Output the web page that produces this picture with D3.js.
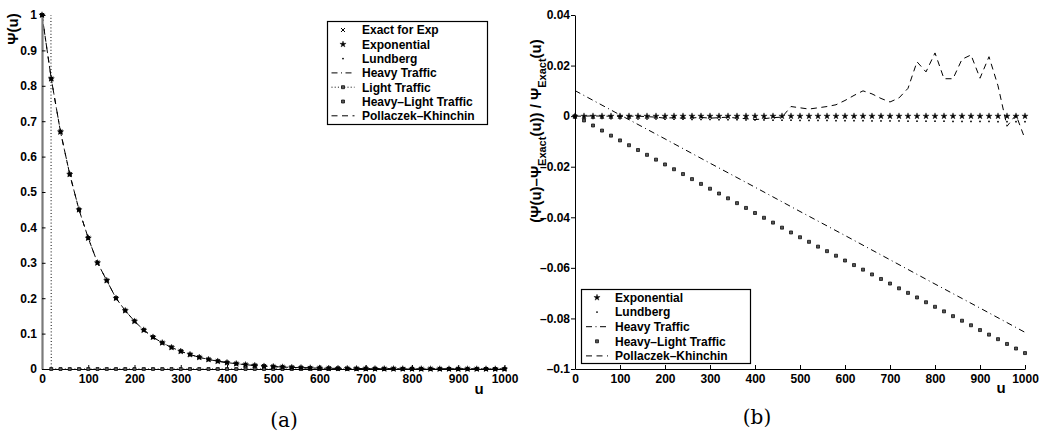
<!DOCTYPE html>
<html>
<head>
<meta charset="utf-8">
<script src="https://cdn.jsdelivr.net/npm/d3@7"></script>
<style>
  body { margin: 0; background: #fff; }
  svg { display: block; font-family: "Liberation Sans", Arial, sans-serif; }
</style>
</head>
<body>
<svg id="fig" width="1048" height="431"></svg>
<script>
// ---------- data ----------
// surplus levels u (step 20)
const uValues = [0,20,40,60,80,100,120,140,160,180,200,220,240,260,280,300,320,340,360,380,
  400,420,440,460,480,500,520,540,560,580,600,620,640,660,680,700,720,740,760,780,
  800,820,840,860,880,900,920,940,960,980,1000];

// ruin probability Psi(u), exact and the approximations (visually coincident)
const psiExact = [1,0.82,0.67,0.55,0.45,0.37,0.30,0.25,0.20,0.165,0.135,0.11,0.09,0.074,0.061,0.05,
  0.041,0.033,0.027,0.022,0.018,0.015,0.012,0.010,0.008,0.0067,0.0055,0.0045,0.0037,0.003,
  0.0025,0.002,0.0017,0.0014,0.0011,0.0009,0.0007,0.0006,0.0005,0.0004,0.0003,0.0003,0.0002,
  0.0002,0.0001,0.0001,0.0001,0.0001,0,0,0];

// light traffic approximation: far above 1 at u = 0, then zero
const psiLight = [30,0,0,0,0,0,0,0,0,0,0,0,0,0,0,0,0,0,0,0,0,0,0,0,0,0,0,0,0,0,
  0,0,0,0,0,0,0,0,0,0,0,0,0,0,0,0,0,0,0,0,0];

// relative errors (Psi(u) - Psi_Exact(u)) / Psi_Exact(u)
const relExponential = [0,0,0,0,0,0,0,0,0,0,0,0,0,0,0,0,0,0,0,0,0,0,0,0,0,0,0,0,0,0,
  0,0,0,0,0,0,0,0,0,0,0,0,0,0,0,0,0,0,0,0,0];

const relLundberg = [-0.0008,-0.0008,-0.0009,-0.0009,-0.0010,-0.0010,-0.0010,-0.0011,-0.0011,-0.0011,
  -0.0012,-0.0012,-0.0012,-0.0013,-0.0013,-0.0013,-0.0014,-0.0014,-0.0014,-0.0015,
  -0.0015,-0.0015,-0.0016,-0.0016,-0.0016,-0.0017,-0.0017,-0.0017,-0.0017,-0.0018,
  -0.0018,-0.0018,-0.0018,-0.0019,-0.0019,-0.0019,-0.0019,-0.0020,-0.0020,-0.0020,
  -0.0020,-0.0020,-0.0021,-0.0021,-0.0021,-0.0021,-0.0021,-0.0022,-0.0022,-0.0022,-0.0022];

const uCoarse = [0,100,200,300,400,500,600,700,800,900,1000];
const relHeavy = [0.0101,0.0005,-0.0090,-0.0186,-0.0281,-0.0377,-0.0472,-0.0568,-0.0664,-0.0759,-0.0855];

const relHeavyLight = [0,-0.0017,-0.0037,-0.0057,-0.0077,-0.0096,-0.0115,-0.0134,-0.0153,-0.0172,
  -0.0191,-0.0210,-0.0229,-0.0249,-0.0268,-0.0287,-0.0306,-0.0325,-0.0344,-0.0363,
  -0.0383,-0.0402,-0.0421,-0.0441,-0.0460,-0.0479,-0.0497,-0.0516,-0.0534,-0.0552,
  -0.0571,-0.0589,-0.0607,-0.0626,-0.0644,-0.0662,-0.0681,-0.0699,-0.0717,-0.0736,
  -0.0754,-0.0772,-0.0791,-0.0809,-0.0827,-0.0846,-0.0864,-0.0882,-0.0901,-0.0919,-0.0937];

const relPK = [0,0,0.0001,0,0,-0.0001,0,0,-0.0002,-0.0004,
  -0.0008,-0.0006,-0.0008,-0.0007,-0.0005,-0.0008,-0.0006,-0.0004,-0.0008,-0.0010,
  -0.0014,-0.0010,-0.0006,-0.0004,0.0038,0.0033,0.0028,0.0033,0.0038,0.0045,
  0.0062,0.0082,0.0100,0.0088,0.0070,0.0056,0.0072,0.0110,0.0215,0.0175,
  0.0250,0.0148,0.0148,0.0225,0.0242,0.0150,0.0235,0.0120,-0.0040,0.0005,-0.0090];

// tick values
const xTicks = [0,100,200,300,400,500,600,700,800,900,1000];
const yTicksA = [0,0.1,0.2,0.3,0.4,0.5,0.6,0.7,0.8,0.9,1];
const yTicksB = [-0.1,-0.08,-0.06,-0.04,-0.02,0,0.02,0.04];

// legend entries
const legendA = ["Exact for Exp","Exponential","Lundberg","Heavy Traffic","Light Traffic","Heavy\u2013Light Traffic","Pollaczek\u2013Khinchin"];
const legendB = ["Exponential","Lundberg","Heavy Traffic","Heavy\u2013Light Traffic","Pollaczek\u2013Khinchin"];

// ---------- drawing ----------
const svg = d3.select("#fig");

const xA = d3.scaleLinear().domain([0, 1000]).range([42, 504.5]);
const yA = d3.scaleLinear().domain([0, 1]).range([369, 15]);
const xB = d3.scaleLinear().domain([0, 1000]).range([575, 1025]);
const yB = d3.scaleLinear().domain([-0.1, 0.04]).range([369, 15]);

const styles = {
  heavy:  { dash: "6,3.5,1,3.5" },
  light:  { dash: "1,2.2" },
  pk:     { dash: "6,4.5" }
};

const symStar = d3.symbol().type(d3.symbolStar).size(12);
const symSquare = d3.symbol().type(d3.symbolSquare).size(9);
const symX = d3.symbol().type(d3.symbolX).size(12);

function drawLine(g, xs, ys, xScale, yScale, dash, clipId) {
  const line = d3.line().x((d, i) => xScale(xs[i])).y(d => yScale(d));
  const p = g.append("path")
    .attr("d", line(ys))
    .attr("fill", "none")
    .attr("stroke", "#000")
    .attr("stroke-width", 1)
    .attr("stroke-dasharray", dash);
  if (clipId) p.attr("clip-path", `url(#${clipId})`);
  return p;
}

function markerAttrs(sel, kind) {
  if (kind === "star") {
    sel.attr("d", symStar).attr("fill", "#000").attr("stroke", "#000").attr("stroke-width", 0.4);
  } else if (kind === "square") {
    sel.attr("d", symSquare).attr("fill", "#555").attr("stroke", "#111").attr("stroke-width", 0.8);
  } else {
    sel.attr("d", symX).attr("fill", "none").attr("stroke", "#000").attr("stroke-width", 1);
  }
}

function drawMarkers(g, xs, ys, xScale, yScale, kind, filter) {
  const pts = ys.map((v, i) => ({ u: xs[i], v })).filter(filter || (() => true));
  const sel = g.append("g");
  if (kind === "dot") {
    sel.selectAll("circle").data(pts).join("circle")
      .attr("cx", d => xScale(d.u)).attr("cy", d => yScale(d.v))
      .attr("r", 0.9).attr("fill", "#000");
  } else {
    sel.selectAll("path").data(pts).join("path")
      .attr("transform", d => `translate(${xScale(d.u)},${yScale(d.v)})`)
      .call(markerAttrs, kind);
  }
}

function styleAxis(g, color, width) {
  g.select(".domain").attr("stroke", color).attr("stroke-width", width);
  g.selectAll(".tick line").attr("stroke", "#000");
  g.selectAll(".tick text")
    .attr("fill", "#000")
    .attr("font-size", 12)
    .attr("font-weight", "bold")
    .attr("font-family", "Liberation Sans, Arial, sans-serif");
}

const fmtB = d => d < 0 ? "\u2013" + String(-d) : String(d);

// ---- panel (a) ----
const gA = svg.append("g");
svg.append("clipPath").attr("id", "clipA")
  .append("rect").attr("x", 30).attr("y", 15).attr("width", 490).attr("height", 360);

drawLine(gA, uValues, psiLight, xA, yA, styles.light.dash, "clipA");
drawLine(gA, uValues, psiExact, xA, yA, styles.heavy.dash);
drawLine(gA, uValues, psiExact, xA, yA, styles.pk.dash);

const axAx = gA.append("g").attr("transform", "translate(0,369)")
  .call(d3.axisBottom(xA).tickValues(xTicks).tickSize(-4).tickSizeOuter(0).tickPadding(5.5).tickFormat(d => String(d)));
styleAxis(axAx, "#000", 1);
const axAy = gA.append("g").attr("transform", "translate(42,0)")
  .call(d3.axisLeft(yA).tickValues(yTicksA).tickSize(-3.5).tickSizeOuter(0).tickPadding(5).tickFormat(d => String(d)));
styleAxis(axAy, "#7a7a7a", 2.2);

drawMarkers(gA, uValues, psiLight, xA, yA, "square", d => d.v <= 1);
drawMarkers(gA, uValues, psiExact, xA, yA, "square");
drawMarkers(gA, uValues, psiExact, xA, yA, "star");
drawMarkers(gA, uValues, psiExact, xA, yA, "x");
drawMarkers(gA, uValues, psiExact, xA, yA, "dot");

// ---- panel (b) ----
const gB = svg.append("g");
drawLine(gB, uCoarse, relHeavy, xB, yB, styles.heavy.dash);
drawLine(gB, uValues, relPK, xB, yB, styles.pk.dash);

const axBx = gB.append("g").attr("transform", "translate(0,369)")
  .call(d3.axisBottom(xB).tickValues(xTicks).tickSize(-4).tickSizeOuter(0).tickPadding(5.5).tickFormat(d => String(d)));
styleAxis(axBx, "#000", 1);
const axBy = gB.append("g").attr("transform", "translate(575,0)")
  .call(d3.axisLeft(yB).tickValues(yTicksB).tickSize(4).tickSizeOuter(0).tickPadding(1).tickFormat(fmtB));
styleAxis(axBy, "#000", 1);

drawMarkers(gB, uValues, relLundberg, xB, yB, "dot");
drawMarkers(gB, uValues, relHeavyLight, xB, yB, "square");
drawMarkers(gB, uValues, relExponential, xB, yB, "star");

// ---- axis titles ----
svg.append("text").attr("x", 479).attr("y", 394).attr("text-anchor", "middle")
  .attr("font-size", 15).attr("font-weight", "bold").text("u");
svg.append("text").attr("x", 1001).attr("y", 393).attr("text-anchor", "middle")
  .attr("font-size", 15).attr("font-weight", "bold").text("u");

svg.append("text").attr("transform", "translate(18,29) rotate(-90)")
  .attr("text-anchor", "middle").attr("font-size", 15).attr("font-weight", "bold").text("\u03A8(u)");

const yLab = svg.append("text").attr("transform", "translate(541,131) rotate(-90)")
  .attr("text-anchor", "middle").attr("font-size", 15).attr("font-weight", "bold");
yLab.append("tspan").text("(\u03A8(u)\u2013\u03A8");
yLab.append("tspan").attr("font-size", 11).attr("dy", 5).text("Exact");
yLab.append("tspan").attr("dy", -5).text("(u)) / \u03A8");
yLab.append("tspan").attr("font-size", 11).attr("dy", 5).text("Exact");
yLab.append("tspan").attr("dy", -5).text("(u)");

// panel captions
svg.append("text").attr("x", 284).attr("y", 427).attr("text-anchor", "middle")
  .attr("font-family", "DejaVu Serif, serif").attr("font-size", 20).text("(a)");
svg.append("text").attr("x", 757).attr("y", 424).attr("text-anchor", "middle")
  .attr("font-family", "DejaVu Serif, serif").attr("font-size", 20).text("(b)");

// ---- legends ----
function legendSymbol(g, kind, cx, cy, half) {
  if (kind.line) {
    g.append("line").attr("x1", cx - half).attr("x2", cx + half).attr("y1", cy).attr("y2", cy)
      .attr("stroke", "#000").attr("stroke-width", 1).attr("stroke-dasharray", kind.line);
  }
  if (kind.marker === "dot") {
    g.append("circle").attr("cx", cx).attr("cy", cy).attr("r", 0.9).attr("fill", "#000");
  } else if (kind.marker) {
    g.append("path").attr("transform", `translate(${cx},${cy})`).call(markerAttrs, kind.marker);
  }
}

function drawLegend(labels, kinds, box, symX0, textX, rowY0, rowStep, half) {
  const g = svg.append("g");
  g.append("rect").attr("x", box[0]).attr("y", box[1]).attr("width", box[2]).attr("height", box[3])
    .attr("fill", "#fff").attr("stroke", "#000").attr("stroke-width", 1.2);
  labels.forEach((lab, i) => {
    const cy = rowY0 + i * rowStep;
    legendSymbol(g, kinds[i], symX0, cy, half);
    g.append("text").attr("x", textX).attr("y", cy + 4.3)
      .attr("font-size", 12).attr("font-weight", "bold").text(lab);
  });
}

const kindsA = [
  { marker: "x" }, { marker: "star" }, { marker: "dot" },
  { line: styles.heavy.dash }, { line: styles.light.dash, marker: "square" },
  { marker: "square" }, { line: styles.pk.dash }
];
drawLegend(legendA, kindsA, [327.5, 21.5, 160, 103], 343, 362, 30, 14.3, 11.5);

const kindsB = [
  { marker: "star" }, { marker: "dot" }, { line: styles.heavy.dash },
  { marker: "square" }, { line: styles.pk.dash }
];
drawLegend(legendB, kindsB, [581.5, 289.5, 169, 74], 597, 615, 297.5, 14.6, 11);
</script>
</body>
</html>
